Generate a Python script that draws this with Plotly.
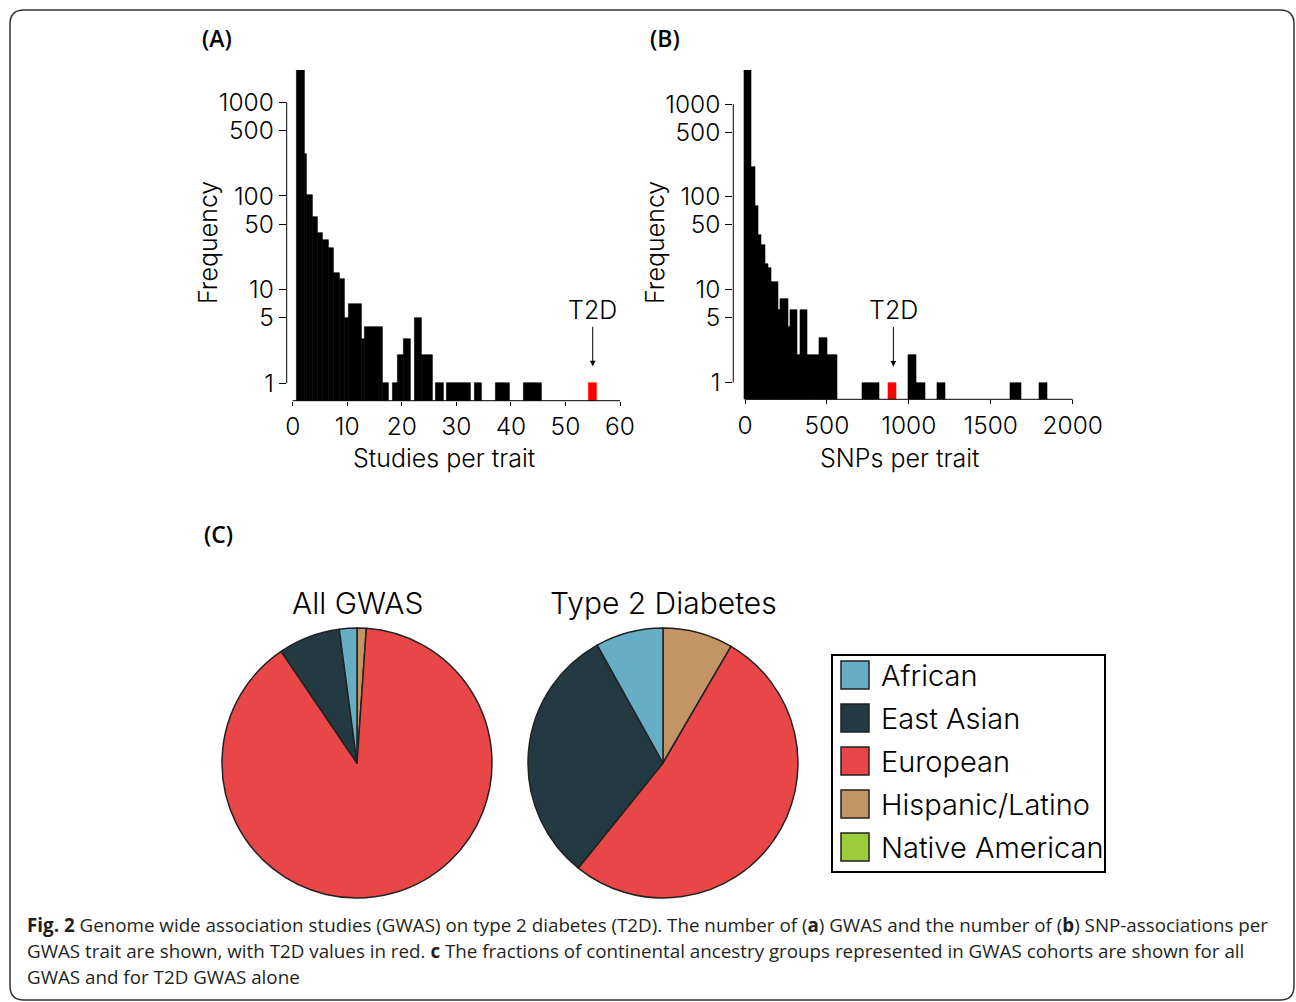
import math
import plotly.graph_objects as go

W, H = 1296, 1002

# ---------------- DATA ----------------
# Panel A: studies per trait histogram (bin edges, frequencies)
studies_lo = [0.73, 2.13, 2.62, 3.60, 4.58, 5.55, 6.59, 7.57, 8.55, 9.59, 10.26, 12.58,
              13.25, 16.55, 18.26, 19.25, 20.28, 22.30, 23.65, 26.27, 28.29, 33.30, 37.27, 42.27]
studies_hi = [2.13, 2.62, 3.60, 4.58, 5.55, 6.59, 7.57, 8.55, 9.59, 10.26, 12.58, 13.25,
              16.55, 17.62, 19.25, 20.28, 21.63, 23.65, 25.66, 27.60, 32.63, 34.65, 39.70, 45.70]
studies_freq = [2300, 281, 102, 60, 40, 34, 28, 15, 13, 5, 7, 3,
                4, 1, 1, 2, 3, 5, 2, 1, 1, 1, 1, 1]
t2d_studies_lo, t2d_studies_hi, t2d_studies_freq = 54.3, 55.7, 1

# Panel B: SNPs per trait histogram
snps_lo = [-4, 41, 61, 81, 102, 122, 142, 163, 203, 218, 264, 279, 321, 336, 380, 452,
           502, 716, 999, 1046, 1176, 1617, 1798]
snps_hi = [41, 61, 81, 102, 122, 142, 163, 203, 218, 264, 279, 321, 336, 380, 452, 502,
           563, 820, 1046, 1103, 1222, 1684, 1843]
snps_freq = [2500, 211, 80, 39, 30, 19, 17, 12, 6, 8, 4, 6, 2, 6, 2, 3,
             2, 1, 2, 1, 1, 1, 1]
t2d_snps_lo, t2d_snps_hi, t2d_snps_freq = 877, 922, 1

freq_ticks = [1, 5, 10, 50, 100, 500, 1000]
studies_ticks = [0, 10, 20, 30, 40, 50, 60]
snps_ticks = [0, 500, 1000, 1500, 2000]

# Panel C: ancestry fractions (%)
ancestry = ["African", "East Asian", "European", "Hispanic/Latino", "Native American"]
ancestry_colors = ["#66AEC6", "#233A43", "#E84647", "#C49564", "#9CCB3B"]
all_gwas_pct = [2.1, 7.4, 89.4, 1.1, 0.0]
t2d_gwas_pct = [8.1, 31.1, 52.4, 8.4, 0.0]

# ---------------- FIGURE ----------------
FONT = "Inter"
LIGHT = 300


def px_x(p):
    return p / W


def px_y(p):
    return 1 - p / H


fig = go.Figure()


def hist_trace(lo, hi, freq, color, xa, ya):
    return go.Bar(
        x=[(a + b) / 2 for a, b in zip(lo, hi)],
        y=freq,
        width=[b - a for a, b in zip(lo, hi)],
        marker=dict(color=color, line=dict(color=color, width=0.6)),
        xaxis=xa, yaxis=ya, showlegend=False, hoverinfo="x+y",
    )


fig.add_trace(hist_trace(studies_lo, studies_hi, studies_freq, "black", "x", "y"))
fig.add_trace(hist_trace([t2d_studies_lo], [t2d_studies_hi], [t2d_studies_freq], "#FF0000", "x", "y"))
fig.add_trace(hist_trace(snps_lo, snps_hi, snps_freq, "black", "x2", "y2"))
fig.add_trace(hist_trace([t2d_snps_lo], [t2d_snps_hi], [t2d_snps_freq], "#FF0000", "x2", "y2"))

# pies: R-style (counter-clockwise from 12 o'clock in legend order)
# == clockwise from 12 o'clock in reversed order
pie_common = dict(
    labels=ancestry[::-1], sort=False, direction="clockwise", rotation=0,
    marker=dict(colors=ancestry_colors[::-1], line=dict(color="#222222", width=1.5)),
    textinfo="none", showlegend=False, hoverinfo="label+percent", automargin=False,
)
fig.add_trace(go.Pie(values=all_gwas_pct[::-1], name="All GWAS",
                     domain=dict(x=[px_x(222), px_x(492)], y=[px_y(898), px_y(628)]),
                     **pie_common))
fig.add_trace(go.Pie(values=t2d_gwas_pct[::-1], name="Type 2 Diabetes",
                     domain=dict(x=[px_x(528), px_x(798)], y=[px_y(898), px_y(628)]),
                     **pie_common))

tickfont = dict(family=FONT, size=24.5, color="black", weight=LIGHT)

A_yrange = [-0.186, 3.345]
B_yrange = [-0.181, 3.367]
A_xrange = [-1.1, 61.1]
B_xrange = [-71.4, 2071.4]

axis_common = dict(showgrid=False, zeroline=False, showline=False, ticks="outside",
                   tickcolor="black", tickwidth=1, tickfont=tickfont, fixedrange=True,
                   automargin=False)

fig.update_layout(
    template="none",
    width=W, height=H, margin=dict(l=0, r=0, t=0, b=0, pad=0, autoexpand=False), autosize=False,
    paper_bgcolor="white", plot_bgcolor="white", bargap=0, showlegend=False,
    xaxis=dict(domain=[px_x(286.7), px_x(626)], range=A_xrange, tickvals=studies_ticks,
               ticklen=4, anchor="y", **axis_common),
    yaxis=dict(domain=[px_y(400.7), px_y(70)], type="log", range=A_yrange,
               tickvals=freq_ticks, ticktext=[str(v) for v in freq_ticks],
               ticklen=7, anchor="x", **axis_common),
    xaxis2=dict(domain=[px_x(733.3), px_x(1084.4)], range=B_xrange, tickvals=snps_ticks,
                ticklen=4, anchor="y2", **axis_common),
    yaxis2=dict(domain=[px_y(399.3), px_y(70)], type="log", range=B_yrange,
                tickvals=freq_ticks, ticktext=[str(v) for v in freq_ticks],
                ticklen=7, anchor="x2", **axis_common),
)


def logfrac(v, rng):
    return (math.log10(v) - rng[0]) / (rng[1] - rng[0])


shapes = []
# partial axis lines (R-style)
for xa, ya, yr, xt in (("x", "y", A_yrange, studies_ticks), ("x2", "y2", B_yrange, snps_ticks)):
    shapes.append(dict(type="line", xref=f"{xa} domain", yref=f"{ya} domain",
                       x0=0, x1=0, y0=logfrac(freq_ticks[0], yr), y1=logfrac(freq_ticks[-1], yr),
                       line=dict(color="black", width=1)))
    shapes.append(dict(type="line", xref=xa, yref=f"{ya} domain",
                       x0=xt[0], x1=xt[-1], y0=0, y1=0, line=dict(color="black", width=1)))

# legend
leg_x0, leg_x1, leg_y0, leg_y1 = 832, 1105, 655, 872
shapes.append(dict(type="rect", xref="paper", yref="paper",
                   x0=px_x(leg_x0), x1=px_x(leg_x1), y0=px_y(leg_y1), y1=px_y(leg_y0),
                   line=dict(color="black", width=2), fillcolor="rgba(0,0,0,0)"))
annotations = []
for i, (lab, col) in enumerate(zip(ancestry, ancestry_colors)):
    cy = 675 + 43 * i
    shapes.append(dict(type="rect", xref="paper", yref="paper",
                       x0=px_x(841), x1=px_x(869), y0=px_y(cy + 14), y1=px_y(cy - 14),
                       line=dict(color="#222222", width=1.5), fillcolor=col))
    annotations.append(dict(text=lab, x=px_x(879), y=px_y(cy), xref="paper", yref="paper",
                            xanchor="left", yanchor="middle", showarrow=False,
                            font=dict(family=FONT, size=29, color="black", weight=LIGHT)))

# outer rounded border
r = 14
x0, x1, y0, y1 = 10, 1294, 10, 1000
path = (f"M {px_x(x0 + r)},{px_y(y0)} L {px_x(x1 - r)},{px_y(y0)} "
        f"Q {px_x(x1)},{px_y(y0)} {px_x(x1)},{px_y(y0 + r)} "
        f"L {px_x(x1)},{px_y(y1 - r)} Q {px_x(x1)},{px_y(y1)} {px_x(x1 - r)},{px_y(y1)} "
        f"L {px_x(x0 + r)},{px_y(y1)} Q {px_x(x0)},{px_y(y1)} {px_x(x0)},{px_y(y1 - r)} "
        f"L {px_x(x0)},{px_y(y0 + r)} Q {px_x(x0)},{px_y(y0)} {px_x(x0 + r)},{px_y(y0)} Z")
shapes.append(dict(type="path", xref="paper", yref="paper", path=path,
                   line=dict(color="#333333", width=1.5)))

lab_font = dict(family=FONT, size=25, color="black", weight=LIGHT)
# axis titles
annotations += [
    dict(text="Frequency", x=px_x(208), y=px_y(243), textangle=-90),
    dict(text="Frequency", x=px_x(655), y=px_y(243), textangle=-90),
    dict(text="Studies per trait", x=px_x(444), y=px_y(458)),
    dict(text="SNPs per trait", x=px_x(899), y=px_y(458)),
]
for a in annotations[-4:]:
    a.update(xref="paper", yref="paper", showarrow=False, xanchor="center",
             yanchor="middle", font=lab_font)

# T2D arrows
annotations.append(dict(text="T2D", xref="x", yref="y", x=(t2d_studies_lo + t2d_studies_hi) / 2,
                        y=math.log10(t2d_studies_freq), ax=0, ay=-73, standoff=17,
                        showarrow=True, arrowhead=2, arrowsize=1.1, arrowwidth=1,
                        arrowcolor="black", font=lab_font))
annotations.append(dict(text="T2D", xref="x2", yref="y2", x=(t2d_snps_lo + t2d_snps_hi) / 2 + 6,
                        y=math.log10(t2d_snps_freq), ax=0, ay=-72, standoff=16,
                        showarrow=True, arrowhead=2, arrowsize=1.1, arrowwidth=1,
                        arrowcolor="black", font=lab_font))

# panel letters
for txt, px_, py_ in (("(A)", 217, 38), ("(B)", 665, 38), ("(C)", 218, 534)):
    annotations.append(dict(text=txt, x=px_x(px_), y=px_y(py_), xref="paper", yref="paper",
                            showarrow=False, xanchor="center", yanchor="middle",
                            font=dict(family="Open Sans", size=23, color="black", weight=600)))

# pie titles
for txt, px_ in (("All GWAS", 357), ("Type 2 Diabetes", 663)):
    annotations.append(dict(text=txt, x=px_x(px_), y=px_y(603), xref="paper", yref="paper",
                            showarrow=False, xanchor="center", yanchor="middle",
                            font=dict(family=FONT, size=30, color="black", weight=LIGHT)))

# caption
caption = [
    "<b>Fig. 2</b> Genome wide association studies (GWAS) on type 2 diabetes (T2D). The number of (<b>a</b>) GWAS and the number of (<b>b</b>) SNP-associations per",
    "GWAS trait are shown, with T2D values in red. <b>c</b> The fractions of continental ancestry groups represented in GWAS cohorts are shown for all",
    "GWAS and for T2D GWAS alone",
]
for i, line in enumerate(caption):
    annotations.append(dict(text=line, x=px_x(25), y=px_y(925 + 26 * i), xref="paper", yref="paper",
                            showarrow=False, xanchor="left", yanchor="middle",
                            font=dict(family="Open Sans", size=18.8, color="#231F20")))

fig.update_layout(shapes=shapes, annotations=annotations)
fig.write_html("out.html", config={"responsive": False})
